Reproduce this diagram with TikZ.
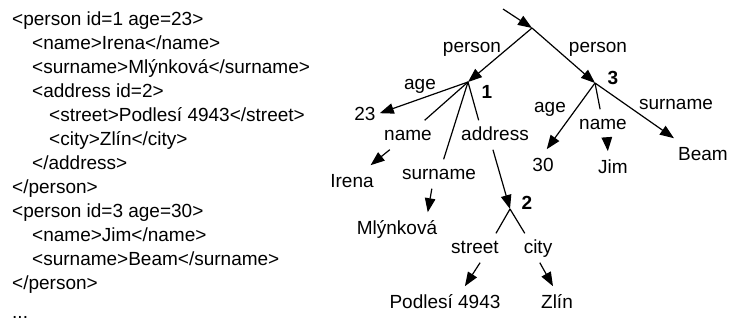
\documentclass[tikz,border=0pt]{standalone}
\usepackage{fontspec}
\setmainfont{Liberation Sans}
\usetikzlibrary{arrows.meta}

\begin{document}
\begin{tikzpicture}[x=1pt, y=-1pt,
    every node/.style={font=\fontsize{19}{23}\selectfont},
    xml/.style={anchor=base west, inner sep=0pt},
    lbl/.style={anchor=base, text height=10pt, text depth=0pt, inner xsep=3pt, inner ysep=9.5pt},
    val/.style={anchor=base, text height=13.6pt, text depth=0pt, inner xsep=4pt, inner ysep=8pt},
    num/.style={font=\fontsize{19}{23}\selectfont\bfseries},
    link/.style={line width=1.2pt},
    arr/.style={link, -{Triangle[length=14pt,width=10.5pt]}}]
  \useasboundingbox (0,0) rectangle (729,330);

  \node [xml] (l0)  at (12,25.5)  {<person id=1 age=23>};
  \node [xml] (l1)  at (32,49.5)  {<name>Irena</name>};
  \node [xml] (l2)  at (32,73.5)  {<surname>Mlýnková</surname>};
  \node [xml] (l3)  at (32,97.5)  {<address id=2>};
  \node [xml] (l4)  at (49,121.5) {<street>Podlesí 4943</street>};
  \node [xml] (l5)  at (49,145.5) {<city>Zlín</city>};
  \node [xml] (l6)  at (32,169.5) {</address>};
  \node [xml] (l7)  at (12,193.5) {</person>};
  \node [xml] (l8)  at (12,217.5) {<person id=3 age=30>};
  \node [xml] (l9)  at (32,241.5) {<name>Jim</name>};
  \node [xml] (l10) at (32,265.5) {<surname>Beam</surname>};
  \node [xml] (l11) at (12,289.5) {</person>};
  \node [xml] (l12) at (12,318)   {...};

  \coordinate (top)  at (503,9);
  \coordinate (root) at (532,28);
  \coordinate (p1)   at (468,82);
  \coordinate (p3)   at (595,83);
  \coordinate (p2)   at (510,209);

  \node [lbl] (lp1) at (472,52) {person};
  \node [lbl] (lp3) at (598,52) {person};
  \draw [arr] (top) -- (root);
  \draw [arr] (root) -- (p1);
  \draw [arr] (root) -- (p3);

  \node [num] (k1)    at (487,92)  {1};
  \node [lbl] (g1)    at (420,89)  {age};
  \node [val] (v23)   at (365,120) {23};
  \node [lbl] (n1)    at (408,140) {name};
  \node [val] (irena) at (352,187) {Irena};
  \node [lbl] (s1)    at (439,179) {surname};
  \node [val] (mly)   at (397,234) {Mlýnková};
  \node [lbl] (a1)    at (495,140) {address};
  \draw [arr]  (p1) -- (v23.east);
  \draw [link] (p1) -- (n1);
  \draw [arr]  (n1) -- (irena);
  \draw [link] (p1) -- (s1);
  \draw [arr]  (s1.-116) -- (mly.26);
  \draw [link] (p1) -- (a1.138);
  \draw [arr]  (a1.-98) -- (p2);

  \node [num] (k2)   at (527,203) {2};
  \node [lbl] (st)   at (475,253) {street};
  \node [val] (pod)  at (445,308) {Podlesí 4943};
  \node [lbl] (ci)   at (538,253) {city};
  \node [val] (zlin) at (557,308) {Zlín};
  \draw [link] (p2) -- (st.35);
  \draw [arr]  (st.-71) -- (pod.37);
  \draw [link] (p2) -- (ci.132);
  \draw [arr]  (ci.-83) -- (zlin.105);

  \node [num] (k3)   at (613,78)  {3};
  \node [lbl] (g3)   at (550,112) {age};
  \node [val] (v30)  at (543,171) {30};
  \node [lbl] (n3)   at (603,129) {name};
  \node [val] (jim)  at (613,173) {Jim};
  \node [lbl] (s3)   at (676,109) {surname};
  \node [val] (beam) at (703,160) {Beam};
  \draw [arr]  (p3) -- (v30.76);
  \draw [link] (p3) -- (n3);
  \draw [arr]  (n3.-75) -- (jim.109);
  \draw [arr]  (p3) -- (beam.north west);
\end{tikzpicture}
\end{document}
